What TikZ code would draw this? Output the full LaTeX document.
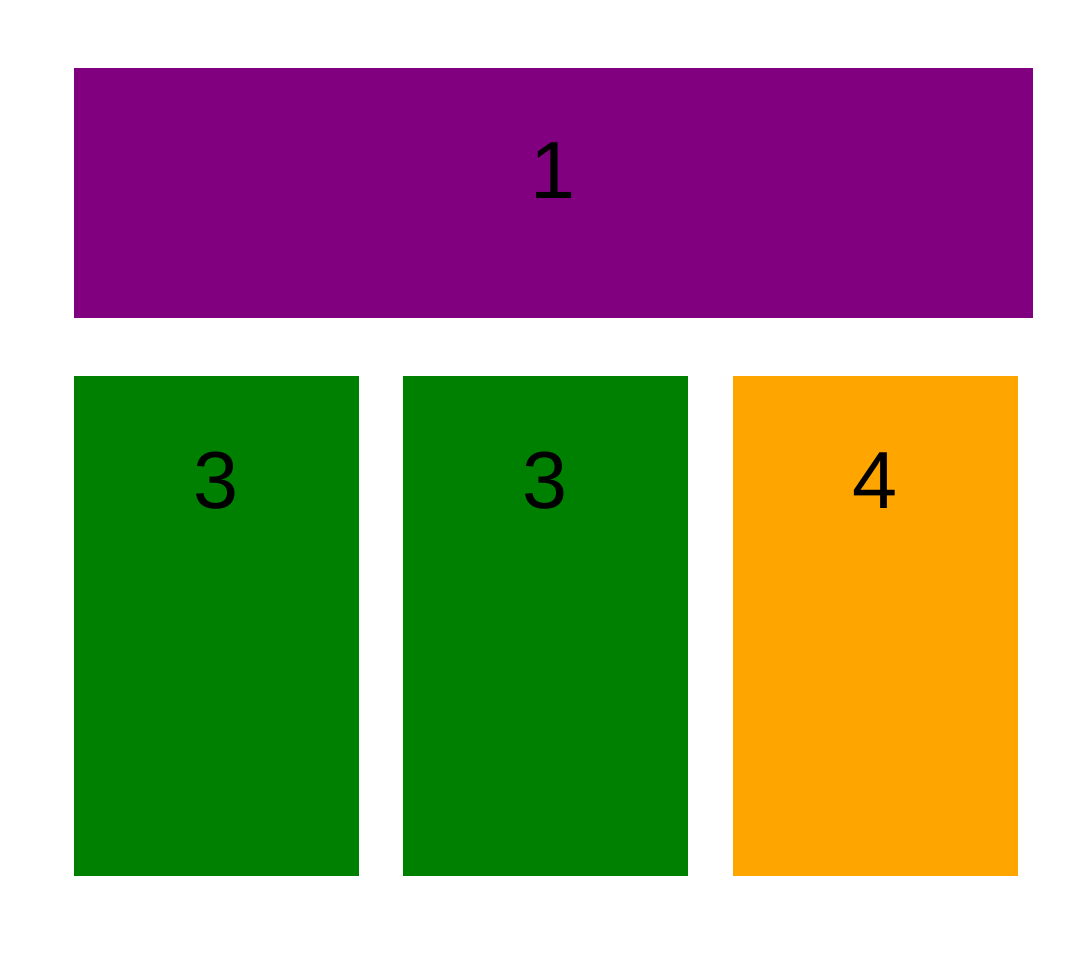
\documentclass[tikz,border=0pt]{standalone}
\usepackage{fontspec}
\setmainfont{Liberation Sans}
\usepackage{xcolor}
\definecolor{blockpurple}{HTML}{800080}
\definecolor{blockgreen}{HTML}{008000}
\definecolor{blockorange}{HTML}{FFA500}
\begin{document}
\begin{tikzpicture}[x=1pt,y=-1pt,
    block/.style={draw=none,inner sep=0pt,outer sep=0pt,anchor=north west},
    num/.style={font=\fontsize{81}{81}\selectfont,text=black,inner sep=0pt}]
  \useasboundingbox (0,0) rectangle (1083,953);
  \node[block,fill=blockpurple,minimum width=959pt,minimum height=250pt] (top) at (74,68) {};
  \node[block,fill=blockgreen,minimum width=285pt,minimum height=500pt] (left) at (74,376) {};
  \node[block,fill=blockgreen,minimum width=285pt,minimum height=500pt] (mid) at (403,376) {};
  \node[block,fill=blockorange,minimum width=285pt,minimum height=500pt] (right) at (733,376) {};
  \node[num] (topnum) at ([yshift=-103pt]top.north) {1};
  \node[num] (leftnum) at ([yshift=-105pt]left.north) {3};
  \node[num] (midnum) at ([yshift=-105pt]mid.north) {3};
  \node[num] (rightnum) at ([yshift=-105pt]right.north) {4};
\end{tikzpicture}
\end{document}
